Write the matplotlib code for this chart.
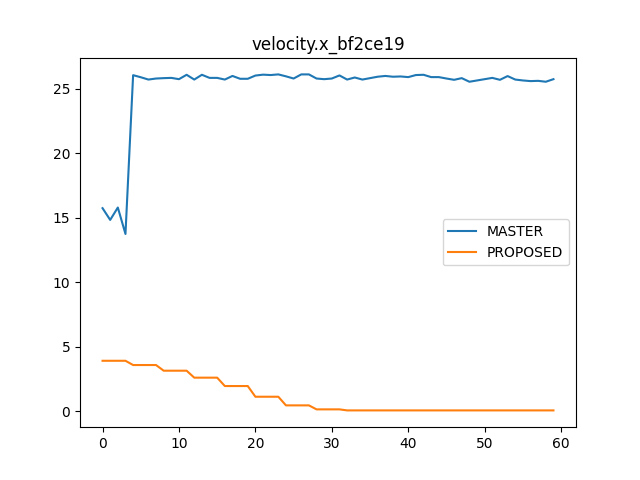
import matplotlib
matplotlib.use("Agg")
import matplotlib.pyplot as plt

master = [15.74, 14.83, 15.79, 13.74, 26.06, 25.9, 25.72, 25.8, 25.83, 25.85,
          25.75, 26.09, 25.72, 26.09, 25.85, 25.85, 25.72, 26.0, 25.78, 25.78,
          26.03, 26.1, 26.07, 26.12, 25.97, 25.8, 26.12, 26.12, 25.8, 25.75,
          25.8, 26.04, 25.72, 25.88, 25.72, 25.83, 25.94, 26.0, 25.94, 25.96,
          25.91, 26.07, 26.09, 25.91, 25.91, 25.8, 25.7, 25.83, 25.55, 25.65,
          25.75, 25.85, 25.7, 25.99, 25.72, 25.65, 25.6, 25.62, 25.55, 25.75]
proposed = ([3.9] * 4 + [3.57] * 4 + [3.13] * 4 + [2.59] * 4 + [1.94] * 4
            + [1.11] * 4 + [0.44] * 4 + [0.13] * 4 + [0.05] * 28)

fig, ax = plt.subplots(figsize=(6.4, 4.8), dpi=100)
ax.plot(range(len(master)), master, label="MASTER")
ax.plot(range(len(proposed)), proposed, label="PROPOSED")
ax.set_title("velocity.x_bf2ce19")
ax.legend(loc="center right")
fig.savefig("out.png")
